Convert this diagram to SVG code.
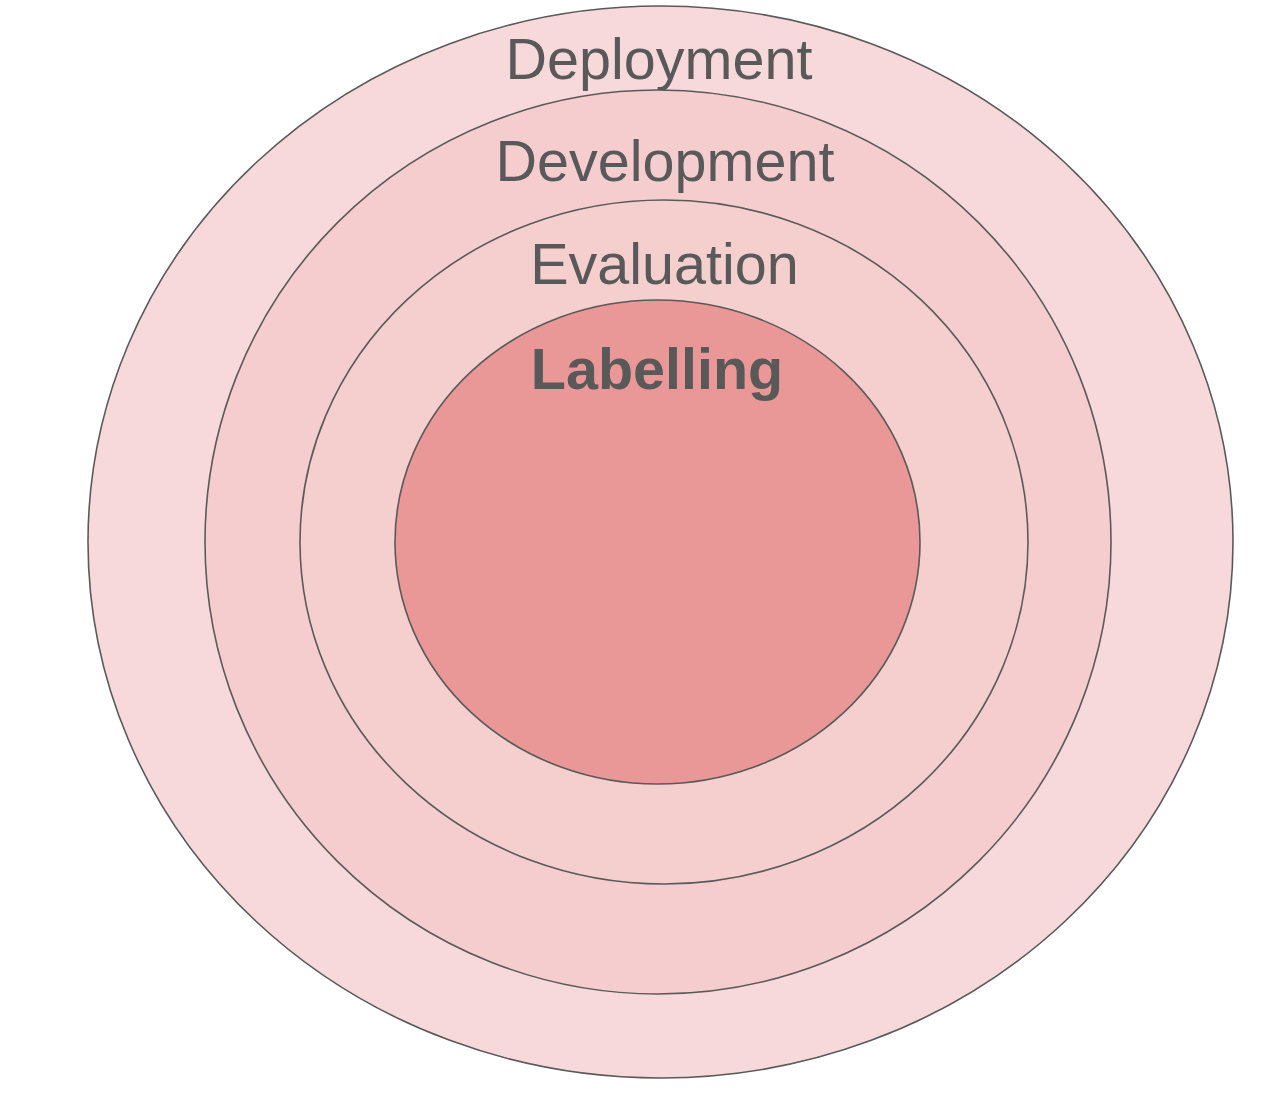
<svg xmlns="http://www.w3.org/2000/svg" width="1288" height="1100" viewBox="0 0 1288 1100">
<style>
.ring{stroke:#5a5a5a;stroke-width:1.6}
.lbl{font-family:"Liberation Sans",Arial,sans-serif;font-size:57.5px;fill:#595959;text-anchor:middle}
.b{font-weight:bold}
</style>
<rect width="1288" height="1100" fill="#ffffff"/>
<g id="deployment">
<ellipse class="ring" cx="660.5" cy="542" rx="572.5" ry="536" fill="#f7d9db"/>
<text class="lbl" x="659" y="78.5">Deployment</text>
</g>
<g id="development">
<ellipse class="ring" cx="658" cy="542" rx="453" ry="452" fill="#f5cdcf"/>
<text class="lbl" x="665" y="181">Development</text>
</g>
<g id="evaluation">
<ellipse class="ring" cx="664" cy="542" rx="364" ry="342" fill="#f4cfce"/>
<text class="lbl" x="664.5" y="284">Evaluation</text>
</g>
<g id="labelling">
<ellipse class="ring" cx="657.5" cy="542" rx="262.5" ry="242" fill="#e99797"/>
<text class="lbl b" x="657" y="389">Labelling</text>
</g>
<g id="connectors"></g>
</svg>
